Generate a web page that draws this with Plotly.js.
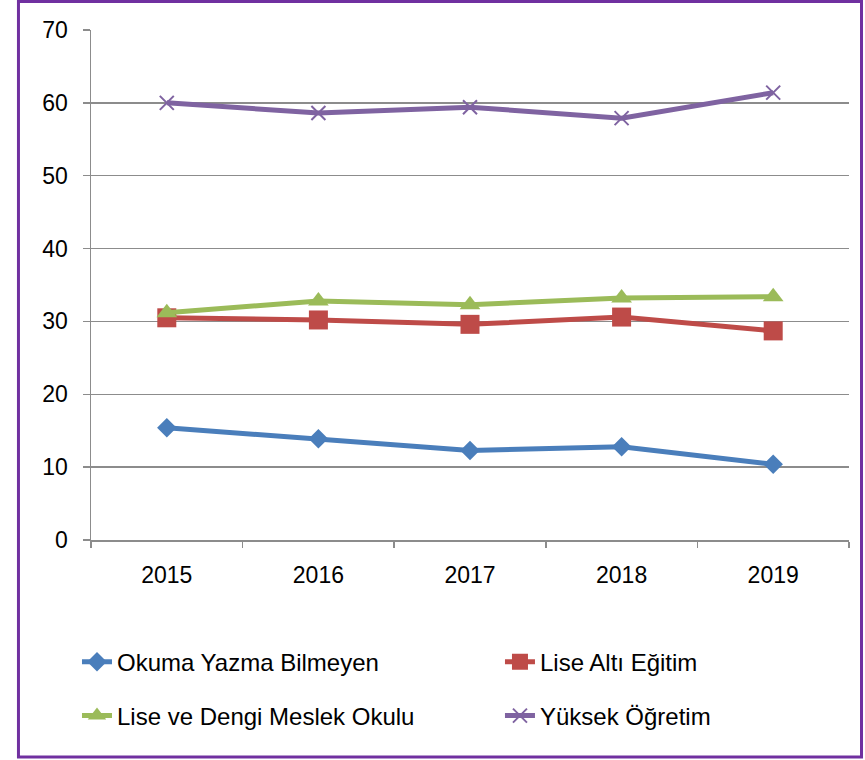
<!DOCTYPE html>
<html>
<head>
<meta charset="utf-8">
<script src="https://cdn.plot.ly/plotly-3.0.1.min.js"></script>
<style>html,body{margin:0;padding:0;background:#fff;}#chart{width:865px;height:760px;}</style>
</head>
<body>
<div id="chart"></div>
<script>
const years = ['2015', '2016', '2017', '2018', '2019'];
const seriesNames = ['Okuma Yazma Bilmeyen', 'Lise Altı Eğitim', 'Lise ve Dengi Meslek Okulu', 'Yüksek Öğretim'];
const okumaYazma = [15.4, 13.9, 12.3, 12.8, 10.4];
const liseAlti = [30.5, 30.2, 29.6, 30.6, 28.7];
const liseDengi = [31.2, 32.8, 32.3, 33.2, 33.4];
const yuksek = [60.0, 58.6, 59.4, 57.9, 61.4];

const FONT = 'Liberation Sans, Arial, sans-serif';
const GRID = '#8c8c8c';

const traces = [
  {x: years, y: okumaYazma, name: seriesNames[0], legend: 'legend', type: 'scatter', mode: 'lines+markers',
   line: {color: '#4A7EBB', width: 5}, marker: {symbol: 'diamond', size: 15, color: '#4A7EBB'}},
  {x: years, y: liseAlti, name: seriesNames[1], legend: 'legend2', type: 'scatter', mode: 'lines+markers',
   line: {color: '#BE4B48', width: 5}, marker: {symbol: 'square', size: 19, color: '#BE4B48'}},
  {x: years, y: liseDengi, name: seriesNames[2], legend: 'legend3', type: 'scatter', mode: 'lines+markers',
   line: {color: '#9BBB59', width: 5}, marker: {symbol: 'triangle-up', size: 18, color: '#9BBB59'}},
  {x: years, y: yuksek, name: seriesNames[3], legend: 'legend4', type: 'scatter', mode: 'lines+markers',
   line: {color: '#7F63A1', width: 5}, marker: {symbol: 'x-thin', size: 14, color: '#7F63A1', line: {color: '#7F63A1', width: 2}}}
];

function leg(x, y) {
  return {
    orientation: 'h', xref: 'container', yref: 'container',
    xanchor: 'left', yanchor: 'middle', x: x, y: y,
    font: {family: FONT, size: 24, color: '#000'}, bgcolor: 'rgba(0,0,0,0)'
  };
}

const layout = {
  width: 865, height: 760,
  margin: {l: 91, r: 16, t: 30, b: 220},
  paper_bgcolor: '#fff', plot_bgcolor: '#fff',
  font: {family: FONT, size: 23, color: '#000'},
  showlegend: true,
  legend: leg(0.089, 0.1289),
  legend2: leg(0.578, 0.1289),
  legend3: leg(0.089, 0.0579),
  legend4: leg(0.578, 0.0579),
  xaxis: {
    type: 'category', range: [-0.5, 4.5], tickson: 'boundaries',
    showgrid: false, showline: true, linecolor: GRID, linewidth: 1.5,
    ticks: 'outside', ticklen: 6, tickcolor: GRID, tickwidth: 1.5,
    tickfont: {family: FONT, size: 23, color: '#000'}, ticklabelstandoff: 14,
    fixedrange: true
  },
  yaxis: {
    range: [0, 70], dtick: 10, tick0: 0,
    showgrid: true, gridcolor: GRID, gridwidth: 1.5, zeroline: false,
    showline: true, linecolor: GRID, linewidth: 1.5,
    ticks: 'outside', ticklen: 7, tickcolor: GRID, tickwidth: 1.5,
    tickfont: {family: FONT, size: 23, color: '#000'}, ticklabelstandoff: 10,
    fixedrange: true
  },
  shapes: [{
    type: 'rect', xref: 'paper', yref: 'paper',
    x0: -0.0957, x1: 1.0165, y0: -0.4255, y1: 1.0559,
    line: {color: '#7030A0', width: 3}, fillcolor: 'rgba(0,0,0,0)', layer: 'above'
  }]
};

Plotly.newPlot('chart', traces, layout, {displayModeBar: false, staticPlot: true});
</script>
</body>
</html>
